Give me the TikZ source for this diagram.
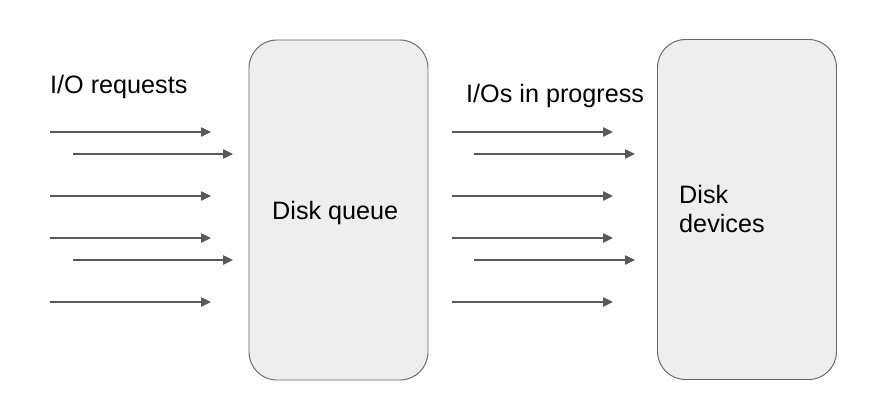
\documentclass[tikz,border=0pt]{standalone}
\usepackage{fontspec}
\setmainfont{Liberation Sans}
\usetikzlibrary{arrows.meta}

\definecolor{boxfill}{HTML}{EEEEEE}
\definecolor{boxline}{HTML}{666666}
\definecolor{arrowgray}{HTML}{595959}

\begin{document}
\begin{tikzpicture}[x=0.03cm, y=-0.03cm,
    diskbox/.style={shape=rectangle, draw=boxline, fill=boxfill, line width=0.8pt, rounded corners=0.84cm, minimum width=5.37cm, minimum height=10.2cm},
    lbl/.style={anchor=base west, inner sep=0pt, font=\fontsize{21.5}{24.7}\selectfont},
    req/.style={draw=arrowgray, line width=0.9pt, -{Triangle[length=8.5pt, width=8pt]}}]

        \useasboundingbox (0,0) rectangle (892,414);

        \node[diskbox] (Q) at (338.5,210) {};
        \node[diskbox] (D) at (747,209.5) {};

        \node[lbl] (Lreq) at (50,93) {I/O requests};
        \node[lbl] (Lprog) at (466,102) {I/Os in progress};
        \node[lbl] (Lq) at (272,219) {Disk queue};
        \node[lbl, align=left] (Ld) at (679,232) {Disk\\devices};

        % arrows into the queue
        \coordinate (a1) at (50,132);  \coordinate (b1) at (211,132);
        \coordinate (a2) at (73,154);  \coordinate (b2) at (233,154);
        \coordinate (a3) at (50,196);  \coordinate (b3) at (211,196);
        \coordinate (a4) at (50,238);  \coordinate (b4) at (211,238);
        \coordinate (a5) at (73,260);  \coordinate (b5) at (233,260);
        \coordinate (a6) at (50,302);  \coordinate (b6) at (211,302);

        % arrows into the devices
        \coordinate (c1) at (452,132); \coordinate (d1) at (613,132);
        \coordinate (c2) at (474,154); \coordinate (d2) at (635,154);
        \coordinate (c3) at (452,196); \coordinate (d3) at (613,196);
        \coordinate (c4) at (452,238); \coordinate (d4) at (613,238);
        \coordinate (c5) at (474,260); \coordinate (d5) at (635,260);
        \coordinate (c6) at (452,302); \coordinate (d6) at (613,302);

    \begin{scope}[every edge/.style={req}]

        \draw (a1) edge (b1);
        \draw (a2) edge (b2);
        \draw (a3) edge (b3);
        \draw (a4) edge (b4);
        \draw (a5) edge (b5);
        \draw (a6) edge (b6);

        \draw (c1) edge (d1);
        \draw (c2) edge (d2);
        \draw (c3) edge (d3);
        \draw (c4) edge (d4);
        \draw (c5) edge (d5);
        \draw (c6) edge (d6);

    \end{scope}

\end{tikzpicture}
\end{document}
